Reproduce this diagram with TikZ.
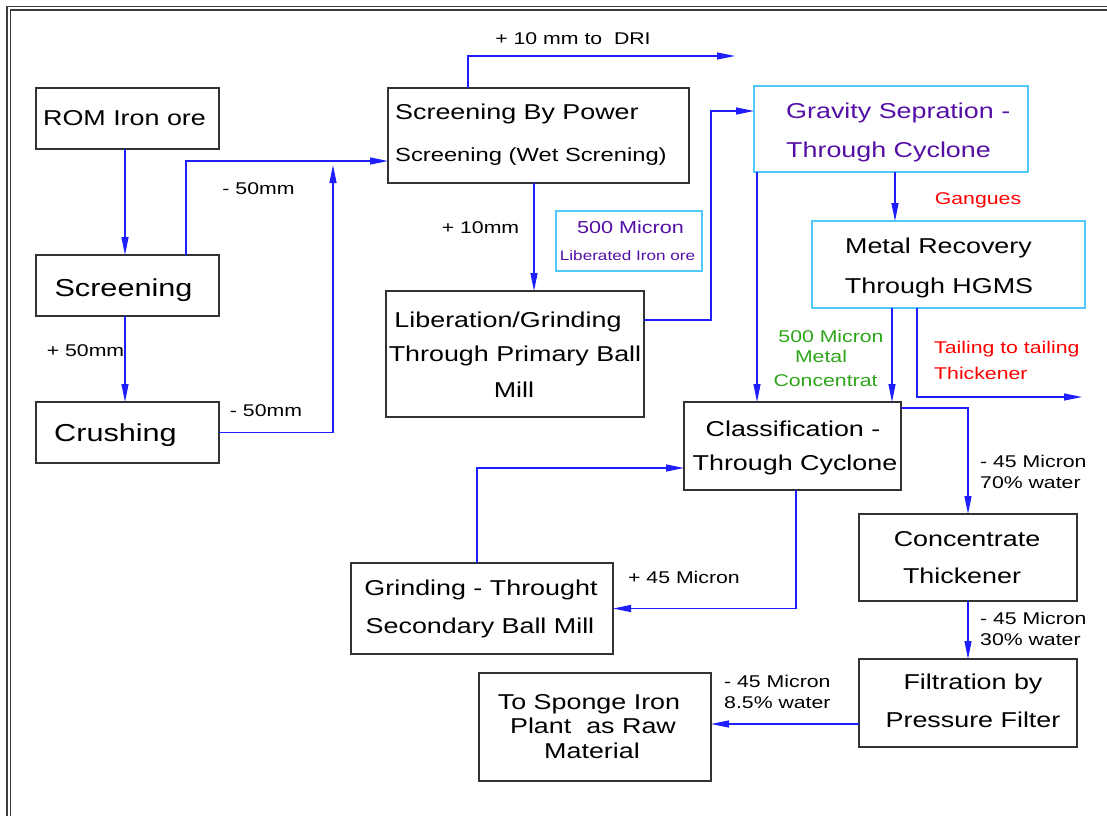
\documentclass[tikz,border=0pt]{standalone}
\usepackage{fontspec}
\setmainfont{Liberation Sans}[FakeStretch=1.25]
\usetikzlibrary{arrows.meta}
\definecolor{boxc}{RGB}{50,50,50}
\definecolor{cyanc}{RGB}{80,200,250}
\definecolor{bluec}{RGB}{30,30,255}
\definecolor{purplec}{RGB}{85,15,165}
\definecolor{greenc}{RGB}{45,165,25}
\definecolor{redc}{RGB}{255,0,0}
\definecolor{framec}{RGB}{60,60,60}
\tikzset{
  box/.style={draw=boxc, line width=1.2pt, anchor=north west, inner sep=0pt, outer sep=0pt},
  cbox/.style={box, draw=cyanc},
  arr/.style={draw=bluec, line width=1.2pt, -{Triangle[length=18pt,width=7pt]}},
  txt/.style={inner sep=0pt, anchor=base, font=\fontsize{21.5}{26}\selectfont},
  big/.style={txt, font=\fontsize{24.5}{29}\selectfont},
  lbl/.style={inner sep=0pt, anchor=base, font=\fontsize{17}{20}\selectfont},
  frameline/.style={draw=framec, line width=1.1pt},
}
\begin{document}
\begin{tikzpicture}[x=1pt, y=-1pt]
\useasboundingbox (0,0) rectangle (1107,816);
% frame
\draw[frameline] (7,816) -- (7,6.5) -- (1107,6.5);
\draw[frameline] (10.5,816) -- (10.5,10) -- (1107,10);

% boxes
\node[box, minimum width=183pt, minimum height=61pt] (rom) at (36,88) {};
\node[box, minimum width=183pt, minimum height=61pt] (scr) at (36,255) {};
\node[box, minimum width=183pt, minimum height=61pt] (cru) at (36,402) {};
\node[box, minimum width=301pt, minimum height=95pt] (sbp) at (388,88) {};
\node[box, minimum width=258pt, minimum height=126pt] (lib) at (386,291) {};
\node[cbox, minimum width=146pt, minimum height=60pt] (mic) at (556,211) {};
\node[cbox, minimum width=274pt, minimum height=86pt] (grav) at (754,86) {};
\node[cbox, minimum width=273pt, minimum height=87pt] (hgms) at (812,221) {};
\node[box, minimum width=217pt, minimum height=88pt] (cls) at (684,402) {};
\node[box, minimum width=218pt, minimum height=87pt] (thk) at (859,514) {};
\node[box, minimum width=262pt, minimum height=91pt] (sgr) at (351,563) {};
\node[box, minimum width=218pt, minimum height=88pt] (fil) at (859,659) {};
\node[box, minimum width=232pt, minimum height=108pt] (spg) at (479,673) {};

% box texts
\node[txt] (trom) at (124.5,125) {ROM Iron ore};
\node[big] (tscr) at (123.5,296) {Screening};
\node[big] (tcru) at (115.5,441) {Crushing};
\node[txt, anchor=base west] (tsbpa) at (395,119) {Screening By Power};
\node[txt, anchor=base west, font=\fontsize{19}{23}\selectfont] (tsbpb) at (395,161) {Screening (Wet Screning)};
\node[txt] (tliba) at (508,327) {Liberation/Grinding};
\node[txt] (tlibb) at (515,361) {Through Primary Ball};
\node[txt] (tlibc) at (514,397) {Mill};
\node[lbl, text=purplec, font=\fontsize{17.3}{20}\selectfont] (tmica) at (630.5,233) {500 Micron};
\node[lbl, text=purplec, font=\fontsize{13.7}{16}\selectfont] (tmicb) at (627.5,260) {Liberated Iron ore};
\node[txt, anchor=base west, text=purplec] (tgrava) at (786,118) {Gravity Sepration -};
\node[txt, anchor=base west, text=purplec] (tgravb) at (786,157) {Through Cyclone};
\node[txt] (thga) at (938.5,253) {Metal Recovery};
\node[txt] (thgb) at (939,293) {Through HGMS};
\node[txt] (tclsa) at (793,436) {Classification -};
\node[txt] (tclsb) at (795,470) {Through Cyclone};
\node[txt] (tthka) at (967,546) {Concentrate};
\node[txt] (tthkb) at (962,583) {Thickener};
\node[txt] (tsgra) at (481,595) {Grinding - Throught};
\node[txt] (tsgrb) at (480,633) {Secondary Ball Mill};
\node[txt] (tfila) at (973,689) {Filtration by};
\node[txt] (tfilb) at (973,727) {Pressure Filter};
\node[txt] (tspga) at (589,709) {To Sponge Iron};
\node[txt] (tspgb) at (593,733) {Plant\ \ as Raw};
\node[txt] (tspgc) at (592,758) {Material};

% helper coordinates
\coordinate (j1) at (333,165);
\coordinate (dri) at (735,56);
\coordinate (tail) at (1082,397);
\coordinate (g1) at ([xshift=-134pt]grav.south);
\coordinate (g2) at ([xshift=4pt]grav.south);
\coordinate (h1) at ([xshift=-56.5pt]hgms.south);
\coordinate (h2) at ([xshift=-31.5pt]hgms.south);
\coordinate (s1) at ([xshift=-4.5pt]sbp.south);
\coordinate (f1) at ([yshift=-21pt]fil.west);

% connectors
\draw[arr] ([xshift=-2.5pt]rom.south) -- ([xshift=-2.5pt]scr.north);
\draw[arr] ([xshift=-2.5pt]scr.south) -- ([xshift=-2.5pt]cru.north);
\draw[arr] ([xshift=58.5pt]scr.north) |- ([yshift=-25.5pt]sbp.west);
\draw[arr] (cru.east) -| (j1);
\draw[arr] ([xshift=-70.5pt]sbp.north) |- (dri);
\draw[arr] (s1) -- (s1 |- lib.north);
\draw[arr] ([yshift=34pt]lib.east) -| ([xshift=-43pt,yshift=18pt]grav.west) -- ([yshift=18pt]grav.west);
\draw[arr] (g1) -- (g1 |- cls.north);
\draw[arr] (g2) -- (g2 |- hgms.north);
\draw[arr] (h1) -- (h1 |- cls.north);
\draw[arr] (h2) |- (tail);
\draw[arr] ([yshift=38pt]cls.east) -| (thk.north);
\draw[arr] ([xshift=3.5pt]cls.south) |- (sgr.east);
\draw[arr] ([xshift=-5pt]sgr.north) |- ([yshift=-22pt]cls.west);
\draw[arr] (thk.south) -- (fil.north);
\draw[arr] (f1) -- (f1 -| spg.east);

% labels
\node[lbl] (la) at (85.5,356) {+ 50mm};
\node[lbl] (lb) at (258.5,194) {- 50mm};
\node[lbl] (lc) at (266,416) {- 50mm};
\node[lbl] (ld) at (573,45) {+ 10 mm to\ \ DRI};
\node[lbl] (le) at (480.5,233) {+ 10mm};
\node[lbl, text=redc] (lgang) at (978,204) {Gangues};
\node[lbl, text=greenc] (lgra) at (831,342) {500 Micron};
\node[lbl, text=greenc] (lgrb) at (821,362) {Metal};
\node[lbl, text=greenc] (lgrc) at (825.5,386) {Concentrat};
\node[lbl, text=redc, anchor=base west] (lreda) at (934,353) {Tailing to tailing};
\node[lbl, text=redc, anchor=base west] (lredb) at (934,379) {Thickener};
\node[lbl, anchor=base west] (lf) at (980,467) {- 45 Micron};
\node[lbl, anchor=base west] (lg) at (980,488) {70\% water};
\node[lbl, anchor=base west] (lh) at (980,624) {- 45 Micron};
\node[lbl, anchor=base west] (li) at (980,645) {30\% water};
\node[lbl] (lj) at (684,583) {+ 45 Micron};
\node[lbl, anchor=base west] (lk) at (724,687) {- 45 Micron};
\node[lbl, anchor=base west] (ll) at (724,708) {8.5\% water};
\end{tikzpicture}
\end{document}
